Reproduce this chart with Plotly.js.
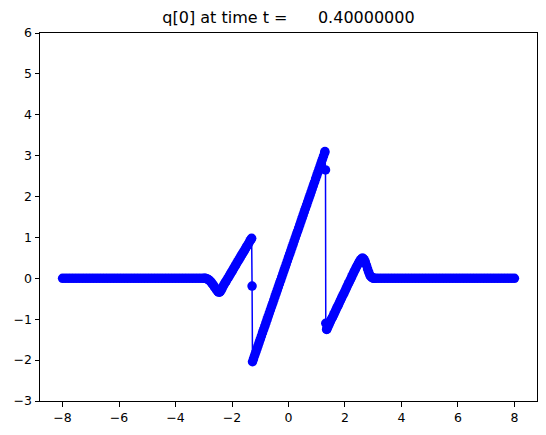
<!DOCTYPE html>
<html>
<head>
<meta charset="utf-8">
<script src="https://cdn.plot.ly/plotly-3.0.1.min.js"></script>
<style>html,body{margin:0;padding:0;background:#fff;}#chart{width:546px;height:435px;}</style>
</head>
<body>
<div id="chart"></div>
<script>
// cell positions (x) and solution values q[0], segment by segment
const xFlatLeft = [-8.0,-7.9,-7.8,-7.7,-7.6,-7.5,-7.4,-7.3,-7.2,-7.1,
  -7.0,-6.9,-6.8,-6.7,-6.6,-6.5,-6.4,-6.3,-6.2,-6.1,
  -6.0,-5.9,-5.8,-5.7,-5.6,-5.5,-5.4,-5.3,-5.2,-5.1,
  -5.0,-4.9,-4.8,-4.7,-4.6,-4.5,-4.4,-4.3,-4.2,-4.1,
  -4.0,-3.9,-3.8,-3.7,-3.6,-3.5,-3.4,-3.3,-3.2,-3.1,-3.0];
const qFlatLeft = [0,0,0,0,0,0,0,0,0,0, 0,0,0,0,0,0,0,0,0,0, 0,0,0,0,0,0,0,0,0,0,
  0,0,0,0,0,0,0,0,0,0, 0,0,0,0,0,0,0,0,0,0, 0];

const xLeftWave = [-2.96,-2.92,-2.88,-2.84,-2.80,-2.76,-2.72,-2.68,-2.64,-2.60,-2.56,-2.52,-2.48,-2.44,-2.40,-2.36,-2.32,
  -2.28,-2.24,-2.20,-2.16,-2.12,-2.08,-2.04,-2.00,-1.96,-1.92,-1.88,-1.84,-1.80,-1.76,-1.72,-1.68,-1.64,-1.60,
  -1.56,-1.52,-1.48,-1.44,-1.40,-1.36,-1.32,-1.305,-1.29,-1.275];
const qLeftWave = [0,-0.005,-0.015,-0.03,-0.05,-0.08,-0.11,-0.15,-0.19,-0.23,-0.27,-0.31,-0.335,-0.34,-0.31,-0.26,-0.20,
  -0.15,-0.10,-0.06,-0.01,0.03,0.08,0.13,0.17,0.22,0.27,0.31,0.36,0.41,0.45,0.50,0.55,0.59,0.64,
  0.68,0.73,0.78,0.82,0.87,0.92,0.96,0.98,-0.19,-2.04];

const xMiddle = [-1.24,-1.20,-1.16,-1.12,-1.08,-1.04,-1.00,-0.96,-0.92,-0.88,
  -0.84,-0.80,-0.76,-0.72,-0.68,-0.64,-0.60,-0.56,-0.52,-0.48,
  -0.44,-0.40,-0.36,-0.32,-0.28,-0.24,-0.20,-0.16,-0.12,-0.08,
  -0.04,0.00,0.04,0.08,0.12,0.16,0.20,0.24,0.28,0.32,
  0.36,0.40,0.44,0.48,0.52,0.56,0.60,0.64,0.68,0.72,
  0.76,0.80,0.84,0.88,0.92,0.96,1.00,1.04,1.08,1.12,
  1.16,1.20,1.24,1.28,1.29];
const qMiddle = [-1.97,-1.89,-1.81,-1.73,-1.65,-1.57,-1.49,-1.41,-1.33,-1.25,
  -1.17,-1.09,-1.01,-0.93,-0.85,-0.77,-0.69,-0.61,-0.53,-0.45,
  -0.37,-0.29,-0.21,-0.13,-0.05,0.03,0.11,0.19,0.27,0.35,
  0.43,0.51,0.59,0.67,0.75,0.83,0.91,0.99,1.07,1.15,
  1.23,1.31,1.39,1.47,1.55,1.63,1.71,1.79,1.87,1.95,
  2.03,2.11,2.19,2.27,2.35,2.43,2.51,2.59,2.67,2.75,
  2.83,2.91,2.99,3.07,3.10];

const xRightWave = [1.31,1.32,1.35,
  1.36,1.40,1.44,1.48,1.52,1.56,1.60,1.64,1.68,1.72,
  1.76,1.80,1.84,1.88,1.92,1.96,2.00,2.04,2.08,2.12,
  2.16,2.20,2.24,2.28,2.32,2.36,2.40,2.44,2.48,2.52,
  2.56,2.60,2.64,2.68,2.72,2.76,2.80,2.84,2.88,2.92,
  2.96,3.00,3.04];
const qRightWave = [2.65,-1.10,-1.25,
  -1.24,-1.18,-1.12,-1.06,-1.00,-0.95,-0.89,-0.83,-0.77,-0.71,
  -0.66,-0.60,-0.54,-0.48,-0.42,-0.37,-0.31,-0.25,-0.19,-0.13,
  -0.08,-0.02,0.04,0.10,0.16,0.21,0.27,0.32,0.37,0.42,
  0.46,0.49,0.49,0.46,0.40,0.32,0.23,0.15,0.08,0.04,
  0.015,0.005,0];

const xFlatRight = [3.1,3.2,3.3,3.4,3.5,3.6,3.7,3.8,3.9,4.0,
  4.1,4.2,4.3,4.4,4.5,4.6,4.7,4.8,4.9,5.0,
  5.1,5.2,5.3,5.4,5.5,5.6,5.7,5.8,5.9,6.0,
  6.1,6.2,6.3,6.4,6.5,6.6,6.7,6.8,6.9,7.0,
  7.1,7.2,7.3,7.4,7.5,7.6,7.7,7.8,7.9,8.0];
const qFlatRight = [0,0,0,0,0,0,0,0,0,0, 0,0,0,0,0,0,0,0,0,0, 0,0,0,0,0,0,0,0,0,0,
  0,0,0,0,0,0,0,0,0,0, 0,0,0,0,0,0,0,0,0,0];

const xTicks = [-8,-6,-4,-2,0,2,4,6,8];
const yTicks = [-3,-2,-1,0,1,2,3,4,5,6];
const titleText = 'q[0] at time t =      0.40000000';

const xs = [].concat(xFlatLeft, xLeftWave, xMiddle, xRightWave, xFlatRight);
const qs = [].concat(qFlatLeft, qLeftWave, qMiddle, qRightWave, qFlatRight);

const font = {family: 'DejaVu Sans, sans-serif', size: 12.5, color: '#000'};
const axisCommon = {
  showgrid: false, zeroline: false, showline: true, mirror: true,
  linecolor: '#000', linewidth: 1, ticks: 'outside', ticklen: 4.5,
  tickcolor: '#000', tickwidth: 1, tickfont: font
};

Plotly.newPlot('chart', [{
  x: xs, y: qs, type: 'scatter', mode: 'lines+markers',
  line: {color: '#0000ff', width: 1.5},
  marker: {color: '#0000ff', size: 9.5},
  hoverinfo: 'skip'
}], {
  width: 546, height: 435,
  margin: {l: 40, r: 9, t: 33, b: 34, pad: 0},
  paper_bgcolor: '#fff', plot_bgcolor: '#fff',
  showlegend: false,
  font: font,
  title: {text: titleText, font: {family: 'DejaVu Sans, sans-serif', size: 16, color: '#000'},
    xref: 'paper', x: 0.5, xanchor: 'center', yref: 'container', y: 1 - 17/435, yanchor: 'middle'},
  xaxis: Object.assign({}, axisCommon, {range: [-8.8, 8.8], tickvals: xTicks}),
  yaxis: Object.assign({}, axisCommon, {range: [-3, 6], tickvals: yTicks})
}, {staticPlot: true, displayModeBar: false});
</script>
</body>
</html>
